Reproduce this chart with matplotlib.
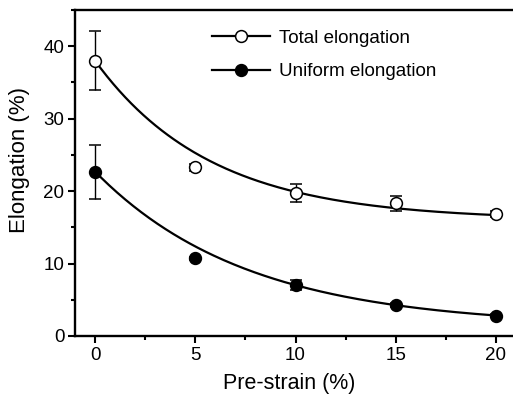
import numpy as np
import matplotlib
matplotlib.use("Agg")
import matplotlib.pyplot as plt
from matplotlib.lines import Line2D
from matplotlib.ticker import MultipleLocator

plt.rcParams['font.family'] = ['Liberation Sans', 'DejaVu Sans']

pre_strain = [0, 5, 10, 15, 20]
total_elong = [38.0, 23.3, 19.7, 18.3, 16.8]
total_err = [4.1, 0.5, 1.25, 1.05, 0.4]
uniform_elong = [22.6, 10.7, 7.0, 4.3, 2.8]
uniform_err = [3.7, 0.2, 0.7, 0.3, 0.2]

# exponential-decay fit parameters: y = A*exp(-x/t) + y0
total_fit = dict(A=22.0, t=5.78, y0=16.0)
uniform_fit = dict(A=21.4, t=7.58, y0=1.3)

fig = plt.figure(figsize=(5.13, 3.98), dpi=100)
ax = fig.add_axes([75/513, 62/398, 441/513, 326/398])

xf = np.linspace(0, 20, 200)
for fit in (total_fit, uniform_fit):
    ax.plot(xf, fit['A']*np.exp(-xf/fit['t']) + fit['y0'], color='black', lw=1.6, zorder=2)

ax.errorbar(pre_strain, total_elong, yerr=total_err, fmt='o', mfc='white', mec='black',
            ecolor='black', ms=8.5, mew=1.1, capsize=4, elinewidth=1.0, capthick=1.0, zorder=3)
ax.errorbar(pre_strain, uniform_elong, yerr=uniform_err, fmt='o', mfc='black', mec='black',
            ecolor='black', ms=8.5, mew=1.1, capsize=4, elinewidth=1.0, capthick=1.0, zorder=3)

ax.set_xlim(-1, 21)
ax.set_ylim(0, 45)
ax.xaxis.set_major_locator(MultipleLocator(5))
ax.xaxis.set_minor_locator(MultipleLocator(2.5))
ax.yaxis.set_major_locator(MultipleLocator(10))
ax.yaxis.set_minor_locator(MultipleLocator(5))
ax.tick_params(which='major', direction='out', length=4.7, width=1.5, labelsize=13.5, pad=3)
ax.tick_params(which='minor', direction='out', length=3, width=1.5)
ax.tick_params(top=False, right=False)
for s in ax.spines.values():
    s.set_linewidth(1.7)

ax.set_xlabel('Pre-strain (%)', fontsize=15.5)
ax.set_ylabel('Elongation (%)', fontsize=16)
ax.xaxis.set_label_coords(0.485, -0.115)
ax.yaxis.set_label_coords(-0.102, 0.54)

handles = [
    Line2D([0], [0], color='black', lw=1.6, marker='o', mfc='white', mec='black', ms=8.5, mew=1.1),
    Line2D([0], [0], color='black', lw=1.6, marker='o', mfc='black', mec='black', ms=8.5, mew=1.1),
]
ax.legend(handles, ['Total elongation', 'Uniform elongation'], loc='upper left',
          bbox_to_anchor=(0.311, 0.94), frameon=False, fontsize=13.5, handlelength=3.1,
          labelspacing=0.87, handletextpad=0.45, borderpad=0, borderaxespad=0)

fig.savefig('out.png', dpi=100)
